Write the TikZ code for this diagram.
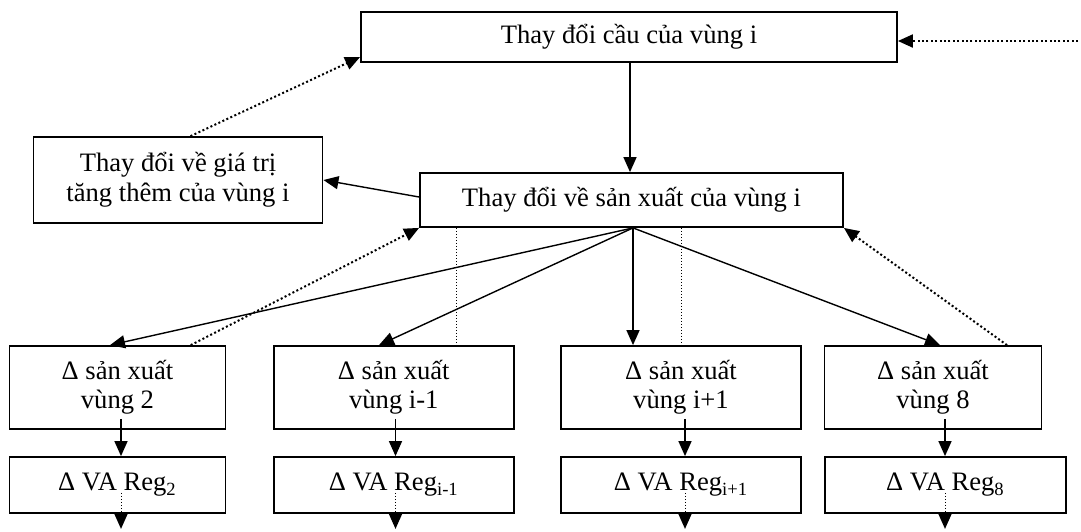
\documentclass[tikz,border=0pt]{standalone}
\usepackage{fontspec}
\setmainfont{Liberation Serif}
\usetikzlibrary{arrows.meta}
\tikzset{%
    box/.style={draw, line width=0.9pt, align=center, inner sep=0pt,
        font=\fontsize{13.3}{15}\selectfont},
    arr/.style={-{Triangle[length=7.5pt, width=6.5pt]}, line width=0.7pt},
    dotarr/.style={-{Triangle[length=7.5pt, width=6.5pt]}, line width=1pt,
        dash pattern=on 1pt off 1.2pt},
    thindot/.style={line width=0.5pt, dash pattern=on 0.5pt off 1pt}
}

\begin{document}
\begin{tikzpicture}[x=0.5pt, y=-0.5pt]

    \useasboundingbox (0, 0) rectangle (1081, 531);

    %%%%%%%%%%%%
    % Region i
    \node[box, minimum width=268pt, minimum height=25pt] (demand) at (629, 37)
        {Thay đổi cầu của vùng i};
    \node[box, minimum width=144.5pt, minimum height=43pt] (value) at (178, 180)
        {Thay đổi về giá trị\\tăng thêm của vùng i};
    \node[box, minimum width=211.5pt, minimum height=27pt] (prod) at (631.5, 200)
        {Thay đổi về sản xuất của vùng i};

    \draw[arr] (demand.south -| 630,0) -- (prod.north -| 630,0);
    \draw[arr] (prod.west |- 0,197) -- (value.east |- 0,180);
    \draw[dotarr] (value.north -| 190.5,0) -- (demand.west |- 0,57);

    \coordinate (feedin) at (1078, 41);
    \draw[dotarr] (feedin) -- (feedin -| demand.east);

    %%%%%%%%%%%%
    % Other regions
    \foreach \i/\cx/\w/\vx/\vw/\lab/\ax in {%
        1/117.5/216/117.5/216/2/121,
        2/393.8/240/393.8/240/i-1/395.5,
        3/681/240/681/240/i+1/685,
        4/933/217/945.5/241/8/945%
    }{%
        \node[box, minimum width=\w*0.5pt, minimum height=41.5pt, font=\fontsize{13.3}{14.5}\selectfont]
            (reg\i) at (\cx, 387.5) {Δ sản xuất\\vùng \lab};
        \node[box, minimum width=\vw*0.5pt, minimum height=28pt] (dva\i) at (\vx, 485)
            {Δ VA Reg\textsubscript{\lab}};
        \draw[arr] (reg\i.south -| \ax,0) ++(0, -11) -- (dva\i.north -| \ax,0);
        \draw[thindot] (dva\i.south -| \ax,0) ++(0, -21) -- (dva\i.south -| \ax,0);
        \draw[arr] (dva\i.south -| \ax,0) -- ++(0, 15);
    };

    % Spread to the other regions
    \coordinate (fan) at (prod.south -| 633,0);
    \foreach \i/\tx in {1/110, 2/379, 3/633, 4/940}{%
        \draw[arr] (fan) -- (reg\i.north -| \tx,0);
    };

    % Feedback
    \draw[dotarr] (reg1.north -| 190.7,0) -- (prod.south west);
    \draw[dotarr] (reg4.north -| 1007,0) -- (prod.south east);
    \draw[thindot] (prod.south -| 456,0) -- (reg2.north -| 456,0);
    \draw[thindot] (prod.south -| 681,0) -- (reg3.north -| 681,0);

\end{tikzpicture}
\end{document}
